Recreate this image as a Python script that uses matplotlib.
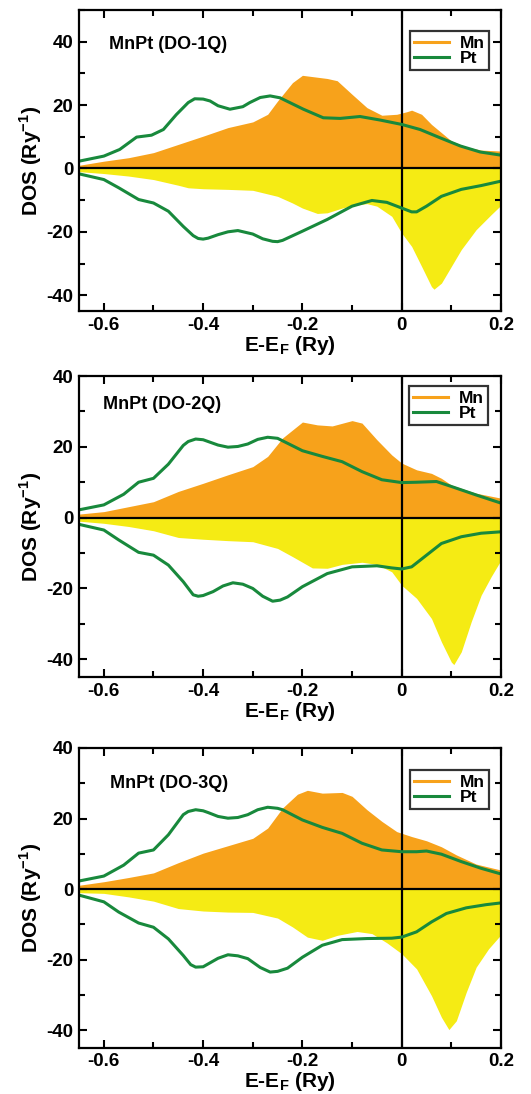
import matplotlib
matplotlib.use('Agg')
import matplotlib.pyplot as plt
from matplotlib.ticker import MultipleLocator

plt.rcParams['font.family'] = ['Liberation Sans', 'DejaVu Sans']
plt.rcParams['font.weight'] = 'bold'
plt.rcParams['mathtext.fontset'] = 'custom'
plt.rcParams['mathtext.rm'] = 'Liberation Sans:bold'
plt.rcParams['mathtext.bf'] = 'Liberation Sans:bold'
plt.rcParams['axes.unicode_minus'] = False

titles = ['MnPt (DO-1Q)', 'MnPt (DO-2Q)', 'MnPt (DO-3Q)']

# ---- DO-1Q ----
mn_up_x_1 = [-0.65, -0.6, -0.55, -0.5, -0.45, -0.4, -0.35, -0.3, -0.27, -0.25, -0.22, -0.2, -0.18,
             -0.15, -0.13, -0.1, -0.07, -0.04, -0.01, 0.01, 0.02, 0.04, 0.06, 0.08, 0.1, 0.13, 0.16, 0.2]
mn_up_1 = [1.0, 2.3, 3.4, 5.0, 7.6, 10.2, 12.9, 14.7, 17.1, 21.3, 27.1, 29.4, 29.0,
           28.4, 27.7, 23.4, 19.2, 16.8, 17.1, 17.9, 18.4, 17.1, 13.9, 11.3, 8.7, 6.8, 5.8, 5.5]
mn_dn_x_1 = [-0.65, -0.6, -0.55, -0.5, -0.45, -0.43, -0.4, -0.35, -0.3, -0.25, -0.22, -0.2, -0.17,
             -0.15, -0.12, -0.1, -0.07, -0.05, -0.02, 0.0, 0.02, 0.04, 0.06, 0.065, 0.08, 0.1, 0.12,
             0.15, 0.18, 0.2]
mn_dn_1 = [-1.0, -1.6, -2.4, -3.5, -5.3, -6.1, -6.4, -6.6, -6.9, -8.8, -10.9, -12.5, -14.2,
           -14.0, -12.5, -11.7, -11.1, -11.9, -15.1, -20.4, -24.6, -30.9, -37.3, -38.1, -36.2, -30.9, -25.6,
           -19.3, -14.6, -11.6]
pt_up_x_1 = [-0.65, -0.6, -0.568, -0.534, -0.504, -0.48, -0.454, -0.43, -0.417, -0.40, -0.386, -0.37,
             -0.346, -0.32, -0.306, -0.285, -0.265, -0.245, -0.232, -0.198, -0.158, -0.124, -0.084,
             -0.044, 0.0, 0.037, 0.077, 0.118, 0.158, 0.2]
pt_up_1 = [2.3, 3.9, 6.0, 9.9, 10.5, 12.3, 17.0, 20.8, 22.0, 21.9, 21.3, 19.8,
           18.7, 19.5, 20.8, 22.4, 22.9, 22.3, 21.3, 18.7, 16.0, 15.8, 16.4,
           15.3, 13.9, 12.3, 9.7, 7.1, 5.2, 4.2]
pt_dn_x_1 = [-0.65, -0.6, -0.57, -0.53, -0.5, -0.47, -0.44, -0.42, -0.41, -0.4, -0.39, -0.37, -0.35,
             -0.33, -0.3, -0.28, -0.26, -0.25, -0.24, -0.2, -0.15, -0.1, -0.06, -0.03, 0.0, 0.02, 0.03,
             0.05, 0.08, 0.12, 0.16, 0.2]
pt_dn_1 = [-1.7, -3.5, -6.1, -9.8, -10.9, -13.5, -18.3, -21.2, -22.1, -22.3, -22.0, -20.9, -20.0,
           -19.6, -20.7, -22.2, -23.0, -23.1, -22.7, -19.8, -16.1, -11.9, -10.1, -10.7, -12.5, -13.7, -13.7,
           -11.9, -8.8, -6.6, -5.4, -4.0]

# ---- DO-2Q ----
mn_up_x_2 = [-0.65, -0.6, -0.55, -0.5, -0.45, -0.4, -0.35, -0.3, -0.27, -0.24, -0.2, -0.17, -0.14,
             -0.1, -0.08, -0.05, -0.02, 0.0, 0.03, 0.06, 0.08, 0.1, 0.15, 0.2]
mn_up_2 = [1.0, 1.7, 3.1, 4.5, 7.4, 9.7, 12.1, 14.4, 17.3, 22.5, 27.0, 26.2, 25.9,
           27.4, 26.7, 22.0, 17.7, 15.4, 13.5, 12.5, 11.1, 9.2, 6.9, 5.5]
mn_dn_x_2 = [-0.65, -0.6, -0.55, -0.5, -0.45, -0.4, -0.35, -0.3, -0.25, -0.22, -0.18, -0.15, -0.12,
             -0.08, -0.05, -0.02, 0.0, 0.03, 0.06, 0.08, 0.1, 0.105, 0.12, 0.14, 0.16, 0.18, 0.2]
mn_dn_2 = [-1.0, -1.6, -2.5, -3.7, -5.6, -6.1, -6.5, -6.8, -8.7, -11.0, -14.2, -14.3, -13.2,
           -12.6, -13.2, -15.3, -19.1, -22.8, -28.5, -35.1, -40.8, -41.5, -37.9, -29.4, -21.9, -16.7, -12.0]
pt_up_x_2 = [-0.65, -0.6, -0.56, -0.53, -0.5, -0.47, -0.44, -0.43, -0.415, -0.40, -0.39, -0.37,
             -0.35, -0.33, -0.31, -0.29, -0.27, -0.25, -0.24, -0.2, -0.16, -0.12, -0.08, -0.04, 0.0,
             0.03, 0.07, 0.1, 0.15, 0.2]
pt_up_2 = [2.2, 3.6, 6.6, 10.0, 11.1, 15.1, 20.4, 21.5, 22.2, 22.0, 21.5, 20.5,
           19.9, 20.1, 20.8, 22.1, 22.7, 22.4, 21.7, 18.9, 17.3, 15.8, 13.0, 10.7, 9.9,
           10.0, 10.2, 8.8, 6.4, 4.1]
pt_dn_x_2 = [-0.65, -0.6, -0.57, -0.53, -0.5, -0.47, -0.44, -0.42, -0.41, -0.40, -0.38, -0.36, -0.34,
             -0.32, -0.3, -0.28, -0.26, -0.245, -0.23, -0.2, -0.15, -0.1, -0.05, -0.02, 0.0, 0.02, 0.05,
             0.08, 0.12, 0.16, 0.2]
pt_dn_2 = [-1.9, -3.5, -6.3, -9.8, -10.6, -13.4, -18.1, -21.8, -22.2, -22.0, -20.9, -19.3, -18.4,
           -18.8, -20.0, -22.2, -23.6, -23.3, -22.4, -19.5, -15.8, -13.9, -13.6, -14.2, -14.5, -13.9, -10.6,
           -7.3, -5.4, -4.4, -4.0]

# ---- DO-3Q ----
mn_up_x_3 = [-0.65, -0.6, -0.55, -0.5, -0.45, -0.4, -0.35, -0.3, -0.27, -0.24, -0.21, -0.19, -0.16,
             -0.12, -0.1, -0.07, -0.04, -0.01, 0.02, 0.05, 0.08, 0.11, 0.15, 0.2]
mn_up_3 = [1.1, 2.1, 3.3, 4.6, 7.5, 10.2, 12.3, 14.4, 17.3, 23.0, 26.9, 28.0, 27.2,
           27.4, 26.3, 22.5, 19.2, 16.3, 14.9, 13.7, 12.0, 9.7, 7.1, 5.4]
mn_dn_x_3 = [-0.65, -0.6, -0.55, -0.5, -0.45, -0.4, -0.35, -0.3, -0.25, -0.22, -0.19, -0.16, -0.13,
             -0.09, -0.06, -0.03, 0.0, 0.03, 0.06, 0.08, 0.095, 0.11, 0.13, 0.15, 0.175, 0.2]
mn_dn_3 = [-1.0, -1.2, -2.2, -3.4, -5.5, -6.2, -6.5, -6.6, -8.2, -10.7, -13.6, -14.5, -13.1,
           -12.0, -12.6, -15.2, -18.3, -22.6, -30.2, -36.3, -39.8, -37.3, -29.2, -22.1, -16.9, -12.9]
pt_up_x_3 = [-0.65, -0.6, -0.56, -0.53, -0.5, -0.47, -0.44, -0.43, -0.415, -0.40, -0.39, -0.37,
             -0.35, -0.33, -0.31, -0.29, -0.27, -0.25, -0.24, -0.2, -0.16, -0.12, -0.08, -0.04, 0.0,
             0.03, 0.05, 0.08, 0.12, 0.16, 0.2]
pt_up_3 = [2.3, 3.7, 6.8, 10.2, 11.1, 15.4, 21.1, 22.0, 22.5, 22.2, 21.7, 20.6,
           20.1, 20.3, 21.1, 22.5, 23.2, 22.9, 22.5, 19.6, 17.5, 15.8, 13.0, 11.1, 10.6,
           10.6, 10.8, 9.9, 7.8, 5.9, 4.3]
pt_dn_x_3 = [-0.65, -0.6, -0.57, -0.53, -0.5, -0.47, -0.44, -0.425, -0.415, -0.40, -0.39, -0.37, -0.35,
             -0.33, -0.31, -0.285, -0.265, -0.25, -0.23, -0.2, -0.16, -0.12, -0.07, -0.02, 0.0, 0.03,
             0.06, 0.09, 0.13, 0.17, 0.2]
pt_dn_3 = [-1.7, -3.6, -6.5, -9.6, -10.8, -14.1, -18.8, -21.4, -22.1, -22.0, -21.2, -19.6, -18.6,
           -18.9, -19.7, -22.2, -23.5, -23.3, -22.4, -19.3, -15.9, -14.3, -14.0, -13.9, -13.6, -12.1,
           -9.3, -6.9, -5.3, -4.4, -3.9]

xtick_vals = [-0.6, -0.4, -0.2, 0.0, 0.2]
xtick_labels = ['-0.6', '-0.4', '-0.2', '0', '0.2']
ytick_vals = [-40, -20, 0, 20, 40]
ytick_labels = ['-40', '-20', '0', '20', '40']

panels = [
    (mn_up_x_1, mn_up_1, mn_dn_x_1, mn_dn_1, pt_up_x_1, pt_up_1, pt_dn_x_1, pt_dn_1),
    (mn_up_x_2, mn_up_2, mn_dn_x_2, mn_dn_2, pt_up_x_2, pt_up_2, pt_dn_x_2, pt_dn_2),
    (mn_up_x_3, mn_up_3, mn_dn_x_3, mn_dn_3, pt_up_x_3, pt_up_3, pt_dn_x_3, pt_dn_3),
]
ytops = [50, 40, 40]
ax_boxes = [[0.1488, 0.7157, 0.7947, 0.2751],
            [0.1488, 0.3812, 0.7947, 0.2751],
            [0.1488, 0.0421, 0.7947, 0.2742]]
title_pos = [(0.071, 0.884), (0.057, 0.904), (0.073, 0.883)]
legend_pos = [(0.971, 0.930), (0.969, 0.966), (0.971, 0.926)]

orange = '#F7A21B'
yellow = '#F5EB14'
green = '#18893C'

fig = plt.figure(figsize=(5.31, 10.94), dpi=100)
for i in range(3):
    mx, my, dx, dy, px, py, qx, qy = panels[i]
    ax = fig.add_axes(ax_boxes[i])
    ax.fill_between(mx, 0, my, color=orange, lw=0)
    ax.fill_between(dx, 0, dy, color=yellow, lw=0)
    ax.axhline(0, color='black', lw=1.6)
    ax.axvline(0, color='black', lw=1.6)
    ax.plot([], [], color=orange, lw=2.2, label='Mn')
    ax.plot(px, py, color=green, lw=2.2, label='Pt', solid_joinstyle='round')
    ax.plot(qx, qy, color=green, lw=2.2, solid_joinstyle='round')
    ax.set_xlim(-0.65, 0.2)
    ax.set_ylim(-45, ytops[i])
    ax.set_xticks(xtick_vals)
    ax.set_xticklabels(xtick_labels)
    ax.set_yticks(ytick_vals)
    ax.set_yticklabels(ytick_labels)
    ax.xaxis.set_minor_locator(MultipleLocator(0.1))
    ax.yaxis.set_minor_locator(MultipleLocator(10))
    ax.tick_params(which='both', direction='in', top=True, right=True, width=1.5,
                   labelsize=13.5, pad=4)
    ax.tick_params(which='major', length=6)
    ax.tick_params(which='minor', length=4)
    for s in ax.spines.values():
        s.set_linewidth(1.6)
    ax.set_xlabel('E-E$_{\\mathbf{F}}$ (Ry)', fontsize=15, fontweight='bold', labelpad=0)
    ax.set_ylabel('DOS (Ry$^{\\mathbf{-1}}$)', fontsize=15, fontweight='bold', labelpad=2)
    ax.text(title_pos[i][0], title_pos[i][1], titles[i], transform=ax.transAxes,
            fontsize=13, fontweight='bold', ha='left', va='center')
    leg = ax.legend(loc='upper right', bbox_to_anchor=legend_pos[i],
                    fontsize=12.5, frameon=True, fancybox=False, edgecolor='black',
                    handlelength=2.0, handletextpad=0.6, labelspacing=0.0,
                    borderpad=0.25, borderaxespad=0)
    leg.get_frame().set_linewidth(1.6)

fig.savefig('out.png', dpi=100)
